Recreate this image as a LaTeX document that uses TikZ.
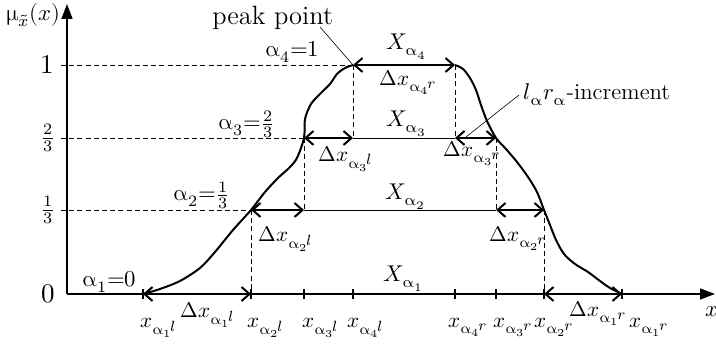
\documentclass[tikz,border=0pt]{standalone}
\usepackage{unicode-math}
\usetikzlibrary{arrows.meta}
\newcommand{\ua}{\upalpha}
\newcommand{\axs}[2]{\ua_{#1}\mkern-1.5mu\raisebox{0.35ex}{$\scriptstyle #2$}}
\tikzset{
  dbl/.style={line width=1pt, {Straight Barb[length=4pt,width=7pt]}-{Straight Barb[length=4pt,width=7pt]}},
  thinline/.style={line width=0.45pt},
  dashline/.style={line width=0.45pt, dash pattern=on 2.5pt off 1.6pt},
  lbl/.style={inner sep=0pt, font=\fontsize{11.4}{13}\selectfont},
  xlbl/.style={inner sep=0pt, font=\fontsize{10.6}{12}\selectfont},
  biglbl/.style={inner sep=0pt, font=\fontsize{13.5}{15}\selectfont},
  peaklbl/.style={inner sep=0pt, font=\fontsize{13.2}{15}\selectfont},
  axisline/.style={line width=0.75pt, -{Triangle[length=7.5pt,width=5.5pt]}},
  curveline/.style={line width=1pt, line join=round},
  leader/.style={line width=0.3pt},
  tickline/.style={line width=0.6pt}
}
\begin{document}
\begin{tikzpicture}[x=0.5pt,y=-0.5pt]
\useasboundingbox (0,0) rectangle (716,346);
% key coordinates
\coordinate (O) at (67,294);
\coordinate (ytop) at (67,4);
\coordinate (xend) at (715,294);
\coordinate (L1) at (143,294); \coordinate (R1) at (622,294);
\coordinate (L2) at (251,210); \coordinate (R2) at (544,210);
\coordinate (L3) at (304,138); \coordinate (R3) at (496,138);
\coordinate (L4) at (353,65);  \coordinate (R4) at (455,65);
\coordinate (B1l) at (251,294); \coordinate (B1r) at (544,294);
\coordinate (B2l) at (304,210); \coordinate (B2r) at (496,210);
\coordinate (B3l) at (353,138); \coordinate (B3r) at (455,138);
\coordinate (T3l) at (304,294); \coordinate (T4l) at (353,294);
\coordinate (T4r) at (455,294); \coordinate (T3r) at (496,294);
\coordinate (Y2) at (61,210); \coordinate (Y3) at (61,138); \coordinate (Y4) at (61,65);
% dashed guides
\draw[dashline] (Y4) -- (L4);
\draw[dashline] (Y3) -- (L3);
\draw[dashline] (Y2) -- (L2);
\draw[dashline] (L2) -- (B1l);
\draw[dashline] (L3) -- (B2l);
\draw[dashline] (L4) -- (B3l);
\draw[dashline] (R4) -- (B3r);
\draw[dashline] (R3) -- (B2r);
\draw[dashline] (R2) -- (B1r);
% thin cut lines
\draw[thinline] (B2l) -- (B2r);
\draw[thinline] (B3l) -- (B3r);
% axes
\draw[axisline] (O) -- (ytop);
\draw[axisline] (O) -- (xend);
% ticks
\foreach \p in {L1,B1l,T3l,T4l,T4r,T3r,B1r,R1}
  \draw[tickline] ([yshift=2.5pt]\p) -- ([yshift=-2.5pt]\p);
% curve
\draw[curveline] plot[smooth, tension=0.5] coordinates {(L1) (160,289) (180,281) (200,268) (215,252) (233,230) (L2) (265,192) (278,178) (289,168) (297,158) (L3) (305,119) (311,104) (320,94) (330,84) (337,74) (345,68) (L4)};
\draw[curveline] plot[smooth, tension=0.5] coordinates {(R4) (463,69) (470,78) (476,90) (481,105) (487,121) (R3) (506,149) (517,162) (528,177) (537,192) (R2) (550,225) (556,240) (564,254) (575,264) (588,272) (600,281) (610,288) (R1)};
% double arrows
\draw[dbl] (L1) -- (B1l);
\draw[dbl] (B1r) -- (R1);
\draw[dbl] (L2) -- (B2l);
\draw[dbl] (B2r) -- (R2);
\draw[dbl] (L3) -- (B3l);
\draw[dbl] (B3r) -- (R3);
\draw[dbl] (L4) -- (R4);
% axis labels
\node[lbl, anchor=base west] (ylab) at (6,21) {$\upmu_{\tilde{x}}(x)$};
\node[lbl, anchor=base west] (xlab) at (705,317) {$x$};
\node[biglbl] (t1) at (47,65) {$1$};
\node[lbl] (t23) at (48,138) {$\tfrac{2}{3}$};
\node[lbl] (t13) at (48,210) {$\tfrac{1}{3}$};
\node[biglbl] (t0) at (48,294) {$0$};
% alpha labels
\node[lbl, anchor=base west] (a4) at (265,57) {$\ua_4{=}1$};
\node[lbl, anchor=base west] (a3) at (218,130) {$\ua_3{=}\tfrac{2}{3}$};
\node[lbl, anchor=base west] (a2) at (173,201) {$\ua_2{=}\tfrac{1}{3}$};
\node[lbl, anchor=base west] (a1) at (82,287) {$\ua_1{=}0$};
% X labels
\node[lbl, anchor=base west] (X4) at (386,50) {$X_{\ua_4}$};
\node[lbl, anchor=base west] (X3) at (386,127) {$X_{\ua_3}$};
\node[lbl, anchor=base west] (X2) at (385,200) {$X_{\ua_2}$};
\node[lbl, anchor=base west] (X1) at (383,282) {$X_{\ua_1}$};
% Delta labels
\node[xlbl, anchor=base west] (d4r) at (379,86) {$\Delta x_{\axs{4}{r}}$};
\node[xlbl, anchor=base west] (d3l) at (318,162) {$\Delta x_{\axs{3}{l}}$};
\node[xlbl, anchor=base west] (d3r) at (443,157) {$\Delta x_{\axs{3}{r}}$};
\node[xlbl, anchor=base west] (d2l) at (258,242) {$\Delta x_{\axs{2}{l}}$};
\node[xlbl, anchor=base west] (d2r) at (489,242) {$\Delta x_{\axs{2}{r}}$};
\node[xlbl, anchor=base west] (d1l) at (180,318) {$\Delta x_{\axs{1}{l}}$};
\node[xlbl, anchor=base west] (d1r) at (569,317) {$\Delta x_{\axs{1}{r}}$};
% x tick labels
\node[xlbl, anchor=base west] (x1l) at (140,328) {$x_{\axs{1}{l}}$};
\node[xlbl, anchor=base west] (x2l) at (247,328) {$x_{\axs{2}{l}}$};
\node[xlbl, anchor=base west] (x3l) at (302,328) {$x_{\axs{3}{l}}$};
\node[xlbl, anchor=base west] (x4l) at (347,328) {$x_{\axs{4}{l}}$};
\node[xlbl, anchor=base west] (x4r) at (448,328) {$x_{\axs{4}{r}}$};
\node[xlbl, anchor=base west] (x3r) at (493,328) {$x_{\axs{3}{r}}$};
\node[xlbl, anchor=base west] (x2r) at (534,328) {$x_{\axs{2}{r}}$};
\node[xlbl, anchor=base west] (x1r) at (629,328) {$x_{\axs{1}{r}}$};
% annotations
\node[peaklbl, anchor=base west] (peak) at (212,25) {peak point};
\coordinate (peakstart) at (320,27);
\draw[leader] (peakstart) -- (L4);
\node[lbl, anchor=base west] (incr) at (523,100) {$l_{\ua}r_{\ua}$-increment};
\coordinate (incstart) at (519,95);
\coordinate (incend) at (466,137);
\draw[leader] (incstart) -- (incend);
\end{tikzpicture}
\end{document}
